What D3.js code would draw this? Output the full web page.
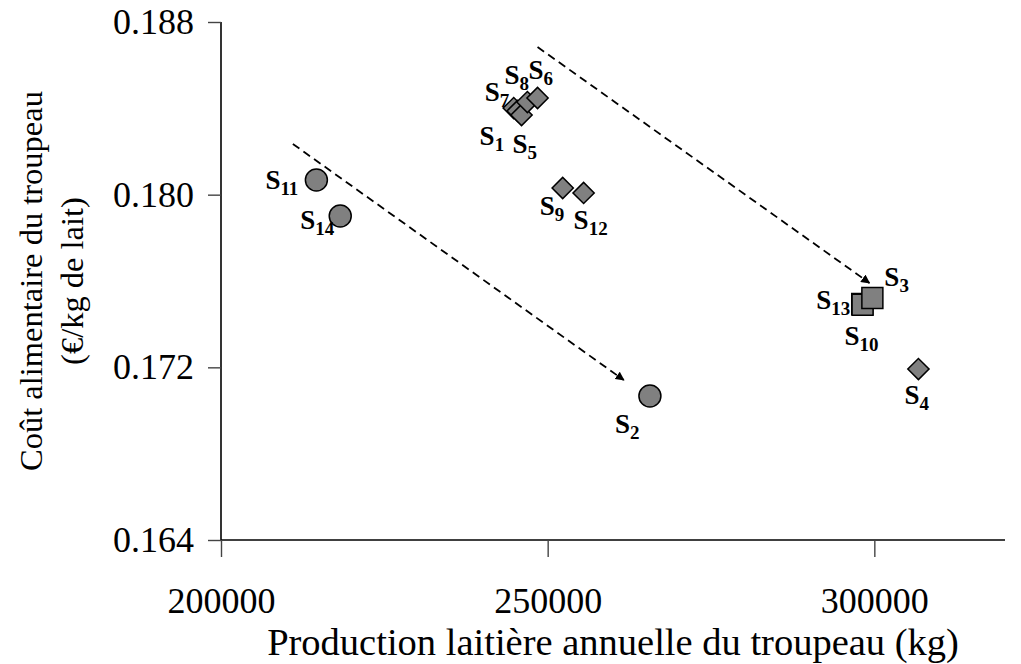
<!DOCTYPE html>
<html>
<head>
<meta charset="utf-8">
<script src="https://cdn.jsdelivr.net/npm/d3@7"></script>
<style>
  html, body { margin: 0; padding: 0; background: #fff; }
  svg { display: block; font-family: "Liberation Serif", "Times New Roman", serif; }
</style>
</head>
<body>
<svg id="chart" width="1021" height="664"></svg>
<script>
// Scenario identifiers (subscript number after "S")
const scenarios = [11, 14, 2, 7, 1, 5, 8, 6, 9, 12, 13, 10, 3, 4];
// Annual herd milk production (kg)
const production = [214600, 218250, 265650, 244800, 245400, 246000, 246900, 248450, 252300, 255500, 298150, 298200, 299700, 306750];
// Herd feed cost (€/kg of milk)
const cost = [0.18068, 0.17901, 0.17067, 0.18401, 0.18388, 0.18369, 0.18429, 0.18448, 0.18031, 0.18008, 0.17493, 0.17490, 0.17521, 0.17192];
// Marker family of each scenario
const shapes = ["circle", "circle", "circle", "diamond", "diamond", "diamond", "diamond", "diamond", "diamond", "diamond", "square", "square", "square", "diamond"];

// Trend arrows: start and end points
const arrowStart = [[211000, 0.18235], [248450, 0.18684]];
const arrowEnd = [[261650, 0.17141], [299250, 0.17591]];

const xTicks = [200000, 250000, 300000];
const yTicks = [0.164, 0.172, 0.180, 0.188];

// Label placement relative to each marker (dx, dy of the "S" baseline start)
const labelOffsets = {
  11: [-51, 9], 14: [-40, 13], 2: [-35, 37],
  7: [-29, -7], 1: [-38, 34], 5: [-9, 38],
  8: [-23, -18], 6: [-9, -19], 9: [-23, 27], 12: [-10, 36],
  13: [-46, 5], 10: [-18, 40], 3: [12, -12], 4: [-14, 35]
};

const svg = d3.select("#chart");
const margin = { left: 221, top: 22, right: 16, bottom: 124 };
const W = 1021, H = 664;

const x = d3.scaleLinear().domain([200000, 320000]).range([margin.left, W - margin.right]);
const y = d3.scaleLinear().domain([0.164, 0.188]).range([H - margin.bottom, margin.top]);

// Axes
const xAxis = d3.axisBottom(x).tickValues(xTicks).tickFormat(d3.format("d")).tickSize(17).tickPadding(30);
const yAxis = d3.axisLeft(y).tickValues(yTicks).tickFormat(d3.format(".3f")).tickSize(13).tickPadding(14);

const gx = svg.append("g").attr("transform", `translate(0,${y(0.164)})`).call(xAxis);
const gy = svg.append("g").attr("transform", `translate(${x(200000)},0)`).call(yAxis);

[gx, gy].forEach(g => {
  g.select(".domain").attr("stroke", "#000").attr("stroke-width", 1.6);
  g.selectAll(".tick line").attr("stroke", "#444").attr("stroke-width", 1.4);
  g.selectAll(".tick text")
    .attr("fill", "#000")
    .style("font-family", "'Liberation Serif', serif")
    .style("font-size", "36px");
});
gx.select(".domain").attr("d", `M${x(200000)},0H${x(320000)}`);
gy.select(".domain").attr("d", `M0,${y(0.164)}V${y(0.188)}`);

// Axis titles
svg.append("text")
  .attr("x", (x(200000) + x(320000)) / 2)
  .attr("y", 655)
  .attr("text-anchor", "middle")
  .style("font-size", "38.5px")
  .text("Production laitière annuelle du troupeau (kg)");

const yMid = (y(0.164) + y(0.188)) / 2;
const yTitle = svg.append("text")
  .attr("transform", `translate(42,${yMid}) rotate(-90)`)
  .attr("text-anchor", "middle")
  .style("font-size", "32.5px");
yTitle.append("tspan").attr("x", 0).attr("dy", 0).text("Coût alimentaire du troupeau");
yTitle.append("tspan").attr("x", 0).attr("dy", 41).text("(€/kg de lait)");

// Arrow head
svg.append("defs").append("marker")
  .attr("id", "head")
  .attr("viewBox", "0 0 10 10")
  .attr("refX", 9).attr("refY", 5)
  .attr("markerWidth", 9).attr("markerHeight", 9)
  .attr("markerUnits", "userSpaceOnUse")
  .attr("orient", "auto")
  .append("path").attr("d", "M0,0L10,5L0,10Z").attr("fill", "#000");

arrowStart.forEach((s, i) => {
  const e = arrowEnd[i];
  svg.append("line")
    .attr("x1", x(s[0])).attr("y1", y(s[1]))
    .attr("x2", x(e[0])).attr("y2", y(e[1]))
    .attr("stroke", "#000").attr("stroke-width", 1.8)
    .attr("stroke-dasharray", "8,5")
    .attr("marker-end", "url(#head)");
});

// Markers (drawn in order so later ones overlap earlier ones)
const pts = scenarios.map((s, i) => ({ s, px: production[i], c: cost[i], shape: shapes[i] }));
const symbolFor = {
  circle: d3.symbol().type(d3.symbolCircle).size(Math.PI * 11 * 11),
  square: d3.symbol().type(d3.symbolSquare).size(21 * 21),
  diamond: d3.symbol().type(d3.symbolSquare).size(15 * 15)
};
svg.append("g").selectAll("path")
  .data(pts)
  .join("path")
  .attr("d", d => symbolFor[d.shape]())
  .attr("transform", d => `translate(${x(d.px)},${y(d.c)})` + (d.shape === "diamond" ? " rotate(45)" : ""))
  .attr("fill", "#808080")
  .attr("stroke", "#000")
  .attr("stroke-width", 1.5);

// Scenario labels
const labels = svg.append("g")
  .style("font-weight", "bold")
  .style("font-family", "'Liberation Serif', serif");
pts.forEach(d => {
  const off = labelOffsets[d.s];
  const t = labels.append("text")
    .attr("x", x(d.px) + off[0])
    .attr("y", y(d.c) + off[1])
    .style("font-size", "27px");
  t.append("tspan").text("S");
  t.append("tspan").attr("dy", 6).style("font-size", "19px").text(d.s);
});
</script>
</body>
</html>
